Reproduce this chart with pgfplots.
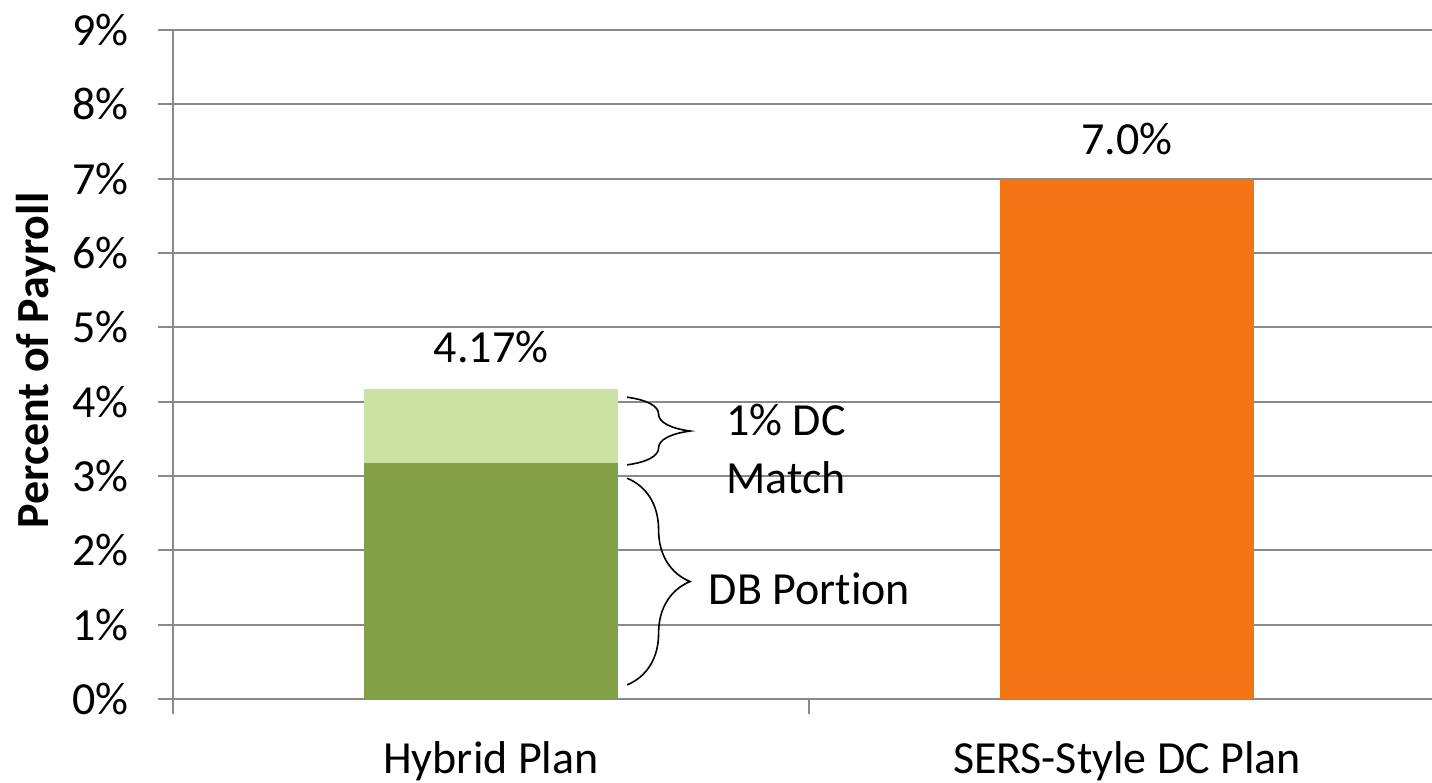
\documentclass[border=0pt]{standalone}
\usepackage{fontspec}
\setmainfont{Carlito}[Ligatures={NoCommon}]
\usepackage{pgfplots}
\pgfplotsset{compat=1.18}
\usetikzlibrary{decorations.pathreplacing}
\definecolor{dbgreen}{HTML}{84A046}
\definecolor{dclight}{HTML}{CDE1A5}
\definecolor{sersorange}{HTML}{F27414}
\definecolor{gridgray}{HTML}{898989}
\begin{document}
\begin{tikzpicture}
\useasboundingbox (0,0) rectangle (716pt,391.5pt);
\begin{axis}[
  at={(86.5pt,42pt)}, anchor=south west,
  scale only axis, width=629.5pt, height=334.5pt,
  xmin=-0.5, xmax=1.4796, ymin=0, ymax=9,
  ybar stacked, bar width=0.4,
  axis x line*=bottom, axis y line*=left,
  axis line style={gridgray, line width=1pt},
  every tick/.style={gridgray, line width=1pt},
  tick align=outside,
  major tick length=7.5pt, minor tick length=7.5pt,
  ytick={0,1,2,3,4,5,6,7,8,9},
  yticklabels={0\%,1\%,2\%,3\%,4\%,5\%,6\%,7\%,8\%,9\%},
  ymajorgrids, grid style={gridgray, line width=1pt},
  xtick={0,1}, xticklabels={Hybrid Plan, SERS-Style DC Plan},
  major x tick style={draw=none},
  minor x tick style={draw=gridgray, line width=1pt},
  minor xtick={-0.5,0.5},
  xminorgrids=false,
  font=\fontsize{23}{28}\selectfont,
  /pgf/number format/assume math mode=true,
  yticklabel style={anchor=east, inner sep=0pt, xshift=-23pt+8.5pt},
  xticklabel style={anchor=base, inner sep=0pt, yshift=-29.5pt},
  ylabel={\bfseries Percent of Payroll},
  ylabel style={at={(axis description cs:-0.109,0.506)}, anchor=center, rotate=0},
  clip=false,
]
\addplot+[fill=dbgreen, draw=none] coordinates {(0,3.17) (1,0)};
\addplot+[fill=dclight, draw=none] coordinates {(0,1.0) (1,0)};
\addplot+[fill=sersorange, draw=none] coordinates {(0,0) (1,7.0)};
\node[anchor=base] at (axis cs:0,4.53) {4.17\%};
\node[anchor=base] at (axis cs:1,7.32) {7.0\%};
\draw[line width=0.8pt, decorate, decoration={brace, amplitude=31.5pt}]
  (axis cs:0.214,4.06) -- (axis cs:0.214,3.15);
\draw[line width=0.8pt, decorate, decoration={brace, amplitude=31.5pt}]
  (axis cs:0.214,2.97) -- (axis cs:0.214,0.19);
\node[anchor=base] at (axis cs:0.464,3.55) {1\% DC};
\node[anchor=base] at (axis cs:0.464,2.77) {Match};
\node[anchor=base] at (axis cs:0.5008,1.265) {DB Portion};
\end{axis}
\end{tikzpicture}
\end{document}
